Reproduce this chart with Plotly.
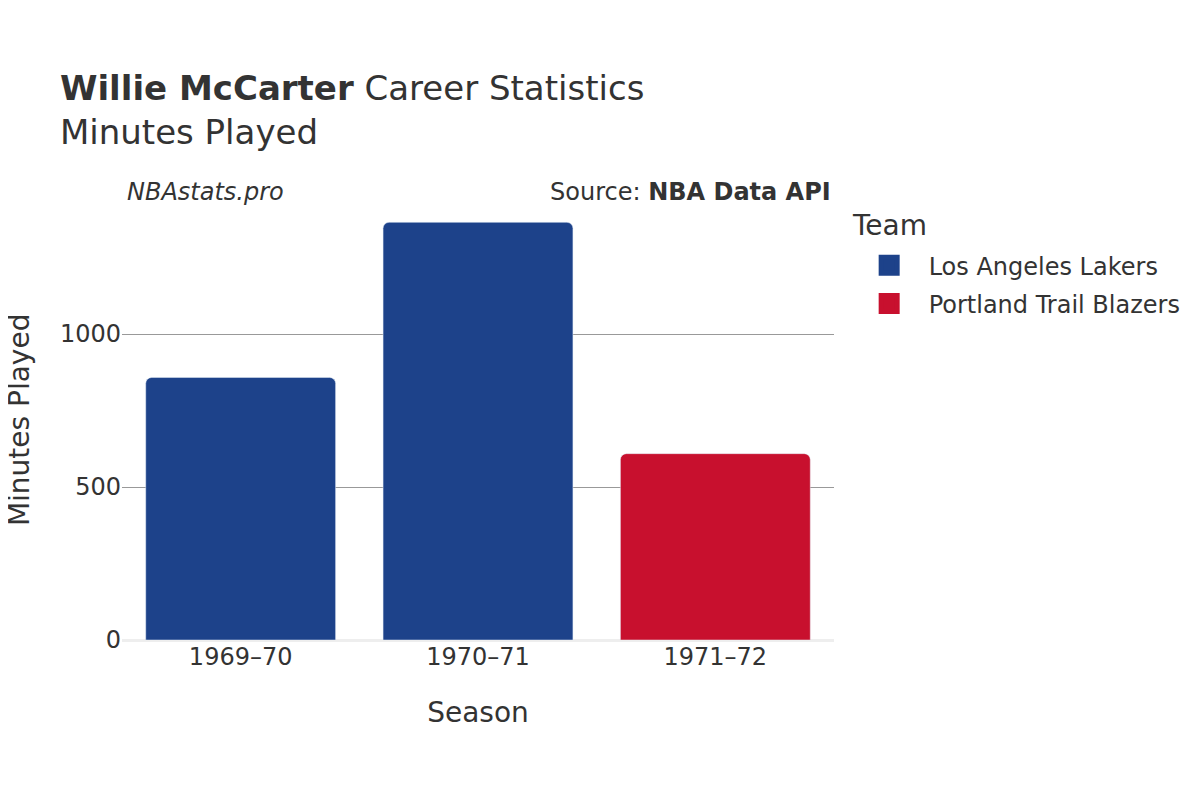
import plotly.graph_objects as go

# données
saisons = ["1969–70", "1970–71", "1971–72"]
equipes = ["Los Angeles Lakers", "Los Angeles Lakers", "Portland Trail Blazers"]
minutes = [858, 1365, 609]
couleurs_equipes = {"Los Angeles Lakers": "#1D428A", "Portland Trail Blazers": "#C8102E"}

police = "DejaVu Sans"
gris_texte = "#333333"

fig = go.Figure()

for equipe, couleur in couleurs_equipes.items():
    x = [s for s, e in zip(saisons, equipes) if e == equipe]
    y = [m for m, e in zip(minutes, equipes) if e == equipe]
    fig.add_trace(
        go.Bar(
            x=x,
            y=y,
            name=equipe,
            legendgroup=equipe,
            marker=dict(color=couleur, cornerradius=6),
            showlegend=False,
        )
    )
    # entrée de légende (carré plus grand que celui des barres)
    fig.add_trace(
        go.Scatter(
            x=[None],
            y=[None],
            mode="markers",
            name=equipe,
            legendgroup=equipe,
            marker=dict(symbol="square", size=17, color=couleur,
                        line=dict(color=couleur, width=5)),
        )
    )

fig.update_layout(
    width=1200,
    height=800,
    plot_bgcolor="white",
    paper_bgcolor="white",
    font=dict(family=police, color=gris_texte, size=24),
    margin=dict(l=114, r=374, t=192, b=168),
    bargap=0.2,
    title=dict(
        text="<b>Willie McCarter</b> Career Statistics<br>Minutes Played",
        x=0.0433,
        xanchor="left",
        y=0.885,
        yanchor="top",
        font=dict(size=34, color=gris_texte),
    ),
    legend=dict(
        font=dict(size=24),
        x=1.022,
        y=0.902,
        xanchor="left",
        yanchor="top",
        itemsizing="trace",
        itemwidth=69,
        tracegroupgap=4,
    ),
    xaxis=dict(
        title=dict(text="Season", font=dict(size=28), standoff=32),
        categoryorder="array",
        categoryarray=saisons,
        showgrid=False,
        ticks="",
        tickfont=dict(size=24),
    ),
    yaxis=dict(
        automargin=False,
        range=[0, 1438],
        dtick=500,
        showgrid=True,
        gridcolor="#999999",
        gridwidth=1,
        zeroline=True,
        zerolinecolor="#eeeeee",
        zerolinewidth=3,
        tickfont=dict(size=24),
    ),
)

# titre de l'axe y
fig.add_annotation(
    text="Minutes Played",
    textangle=-90,
    x=-0.1445, y=0.5,
    xref="paper", yref="paper",
    xanchor="center", yanchor="middle",
    showarrow=False,
    borderpad=0,
    font=dict(size=28),
)

# titre de la légende
fig.add_annotation(
    text="Team",
    x=1.0225, y=0.941,
    xref="paper", yref="paper",
    xanchor="left", yanchor="middle",
    showarrow=False,
    font=dict(size=28),
)

fig.add_annotation(
    text="<i>NBAstats.pro</i>",
    x=0.004, y=1.018,
    xref="paper", yref="paper",
    xanchor="left", yanchor="middle",
    showarrow=False,
    font=dict(size=24),
)
fig.add_annotation(
    text="Source: <b>NBA Data API</b>",
    x=0.998, y=1.018,
    xref="paper", yref="paper",
    xanchor="right", yanchor="middle",
    showarrow=False,
    font=dict(size=24),
)

fig.write_html("out.html")
